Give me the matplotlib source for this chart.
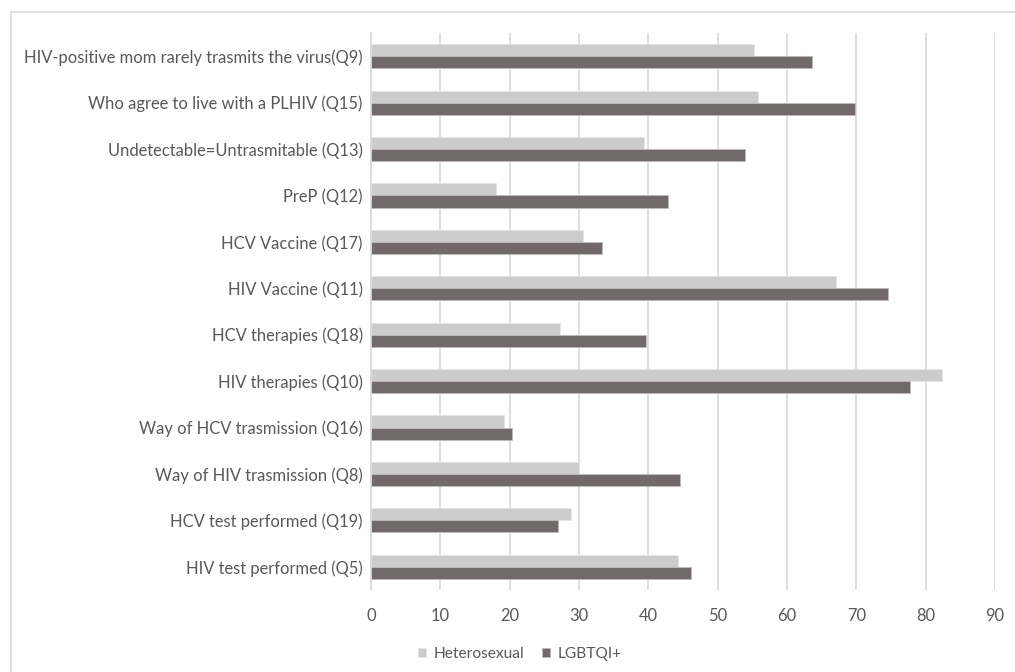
import matplotlib
matplotlib.use("Agg")
import matplotlib.pyplot as plt
from matplotlib.patches import Rectangle
import numpy as np

categories = [
    "HIV test performed (Q5)",
    "HCV test performed (Q19)",
    "Way of HIV trasmission (Q8)",
    "Way of HCV trasmission (Q16)",
    "HIV therapies (Q10)",
    "HCV therapies (Q18)",
    "HIV Vaccine (Q11)",
    "HCV Vaccine (Q17)",
    "PreP (Q12)",
    "Undetectable=Untrasmitable (Q13)",
    "Who agree to live with a PLHIV (Q15)",
    "HIV-positive mom rarely trasmits the virus(Q9)",
]
heterosexual = [44.3, 28.8, 30.0, 19.2, 82.3, 27.3, 67.0, 30.6, 18.1, 39.4, 55.8, 55.3]
lgbtqi = [46.1, 27.0, 44.5, 20.3, 77.7, 39.7, 74.6, 33.3, 42.8, 54.0, 69.8, 63.6]
series_names = ["Heterosexual", "LGBTQI+"]
xticks = list(range(0, 100, 10))

plt.rcParams["font.family"] = ["Lato", "DejaVu Sans"]

fig = plt.figure(figsize=(10.15, 6.72), dpi=100)
ax = fig.add_axes([371 / 1015, 1 - 590 / 672, (995 - 371) / 1015, (590 - 33) / 672])

# outer chart frame
fig.patches.append(Rectangle((11 / 1015, -0.1), 1.2, 1 - 12 / 672 + 0.1,
                             transform=fig.transFigure, fill=False,
                             edgecolor="#d9d9d9", linewidth=1.2))

y = np.arange(len(categories))
h = 0.26
ax.barh(y + h / 2, heterosexual, height=h, color="#cccccc",
        edgecolor="#e6e6e6", linewidth=0.6, label=series_names[0], zorder=3)
ax.barh(y - h / 2, lgbtqi, height=h, color="#726a6a",
        edgecolor="#bfbaba", linewidth=0.6, label=series_names[1], zorder=3)

ax.set_xlim(0, 90)
ax.set_ylim(-0.5, len(categories) - 0.5)
ax.set_xticks(xticks)
ax.set_yticks(y)
ax.set_yticklabels(categories)
ax.grid(axis="x", color="#d9d9d9", linewidth=1.2, zorder=0)
ax.set_axisbelow(True)
for s in ["top", "right", "bottom"]:
    ax.spines[s].set_visible(False)
ax.spines["left"].set_color("#d9d9d9")
ax.spines["left"].set_linewidth(1.2)
ax.spines["left"].set_zorder(4)
ax.tick_params(axis="both", length=0, labelsize=11.9, labelcolor="#595959")
ax.tick_params(axis="y", pad=6)
ax.tick_params(axis="x", pad=13)

handles, labels = ax.get_legend_handles_labels()
fig.legend(handles, labels, loc="center", bbox_to_anchor=(520 / 1015, 1 - 654 / 672),
           ncol=2, frameon=False, fontsize=11.2, labelcolor="#595959",
           handlelength=0.5, handleheight=0.5, handletextpad=0.5, columnspacing=1.15)

fig.savefig("out.png", dpi=100, facecolor="white")
